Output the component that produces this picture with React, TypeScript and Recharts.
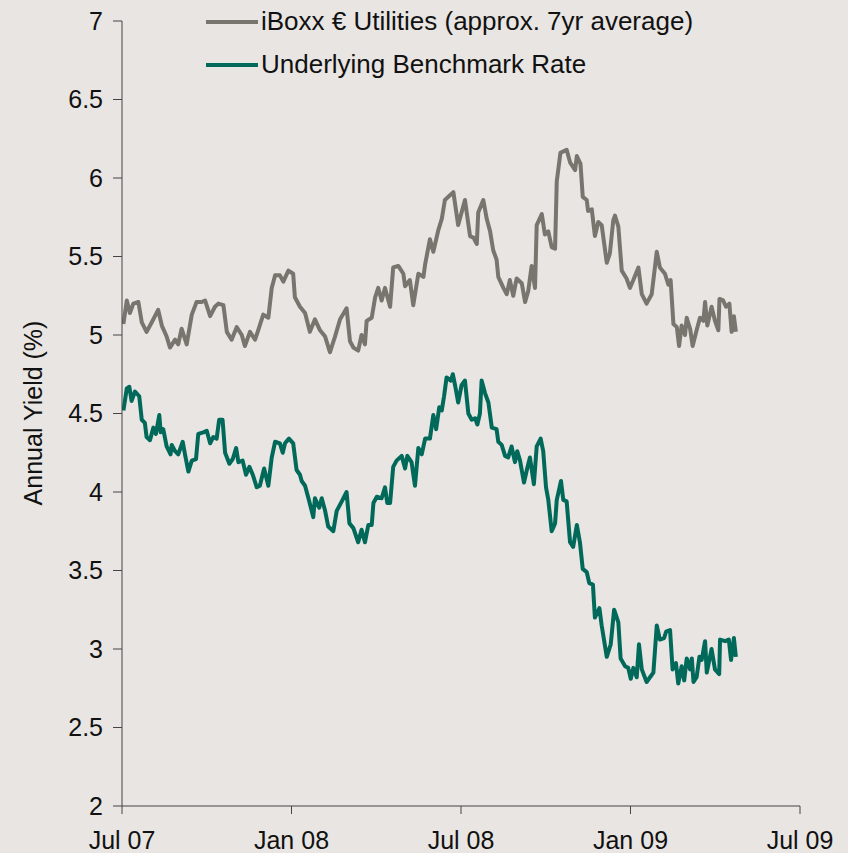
import { Line, LineChart, XAxis, YAxis } from "recharts";

// months since Jul 2007 (x) and yield in % (y)
const iboxxMonths = [
  0.05, 0.17, 0.28, 0.4, 0.58, 0.7, 0.87, 1.05, 1.28, 1.41, 1.58, 1.7, 1.88, 1.99, 2.11, 2.29, 2.47, 2.64, 2.82, 2.94,
  3.12, 3.29, 3.41, 3.59, 3.71, 3.88, 4.06, 4.24, 4.35, 4.53, 4.71, 4.82, 5.0, 5.18, 5.3, 5.42, 5.59, 5.71, 5.89, 6.06,
  6.12, 6.3, 6.48, 6.65, 6.83, 7.01, 7.19, 7.36, 7.54, 7.72, 7.95, 8.07, 8.19, 8.36, 8.48, 8.6, 8.66, 8.84, 8.96, 9.07,
  9.19, 9.31, 9.49, 9.6, 9.78, 9.96, 10.02, 10.19, 10.31, 10.49, 10.67, 10.73, 10.9, 11.02, 11.2, 11.32, 11.43, 11.61,
  11.73, 11.9, 12.14, 12.32, 12.44, 12.56, 12.61, 12.79, 12.91, 13.03, 13.14, 13.26, 13.32, 13.5, 13.62, 13.73, 13.85,
  13.97, 14.15, 14.27, 14.38, 14.5, 14.62, 14.68, 14.86, 14.97, 15.09, 15.21, 15.33, 15.39, 15.52, 15.74, 15.86, 16.04,
  16.1, 16.23, 16.31, 16.45, 16.5, 16.63, 16.74, 16.86, 16.98, 17.16, 17.27, 17.39, 17.45, 17.57, 17.69, 17.86, 17.98,
  18.1, 18.28, 18.4, 18.57, 18.75, 18.93, 19.04, 19.22, 19.34, 19.42, 19.52, 19.64, 19.72, 19.81, 19.93, 19.99, 20.11,
  20.2, 20.34, 20.46, 20.58, 20.64, 20.72, 20.87, 20.99, 21.11, 21.15, 21.28, 21.38, 21.5, 21.58, 21.66, 21.73,
];
const iboxxYield = [
  5.07, 5.22, 5.14, 5.2, 5.21, 5.08, 5.02, 5.08, 5.16, 5.06, 4.99, 4.92, 4.97, 4.94, 5.04, 4.94, 5.13, 5.21, 5.21, 5.22,
  5.12, 5.18, 5.2, 5.19, 5.02, 4.97, 5.05, 5.0, 4.93, 5.02, 4.97, 5.03, 5.13, 5.11, 5.3, 5.38, 5.38, 5.34, 5.41, 5.39,
  5.24, 5.18, 5.14, 5.02, 5.1, 5.03, 4.99, 4.89, 4.99, 5.1, 5.17, 4.96, 4.92, 4.9, 5.0, 4.94, 5.09, 5.11, 5.24, 5.3,
  5.22, 5.3, 5.18, 5.43, 5.44, 5.39, 5.31, 5.35, 5.19, 5.39, 5.37, 5.45, 5.61, 5.53, 5.67, 5.74, 5.86, 5.89,
  5.91, 5.7, 5.86, 5.63, 5.62, 5.58, 5.78, 5.86, 5.74, 5.66, 5.54, 5.48, 5.37, 5.3, 5.26, 5.35, 5.25,
  5.36, 5.33, 5.21, 5.28, 5.44, 5.3, 5.7, 5.77, 5.64, 5.66, 5.56, 5.55, 5.98, 6.16, 6.18, 6.1, 6.05,
  6.14, 6.09, 5.88, 5.86, 5.79, 5.8, 5.63, 5.72, 5.7, 5.46, 5.52, 5.73, 5.76, 5.69, 5.41, 5.36, 5.3,
  5.35, 5.43, 5.26, 5.2, 5.26, 5.53, 5.43, 5.39, 5.32, 5.35, 5.07, 5.05, 4.93, 5.06, 5.0, 5.11, 5.04,
  4.93, 5.03, 5.11, 5.09, 5.21, 5.06, 5.18, 5.09, 5.03, 5.23, 5.22, 5.18, 5.2, 5.02, 5.12, 5.02,
];

const benchMonths = [
  0.05, 0.17, 0.26, 0.34, 0.46, 0.61, 0.7, 0.81, 0.87, 0.99, 1.11, 1.2, 1.32, 1.37, 1.46, 1.58, 1.72, 1.76, 1.88, 1.99,
  2.15, 2.23, 2.35, 2.47, 2.62, 2.7, 2.88, 3.0, 3.12, 3.23, 3.35, 3.44, 3.56, 3.65, 3.8, 3.92, 4.04, 4.12, 4.27, 4.39,
  4.51, 4.63, 4.77, 4.88, 5.03, 5.18, 5.3, 5.42, 5.59, 5.69, 5.77, 5.91, 6.06, 6.18, 6.3, 6.36, 6.48, 6.63, 6.77, 6.83,
  6.98, 7.07, 7.19, 7.3, 7.48, 7.6, 7.78, 7.95, 8.05, 8.19, 8.36, 8.48, 8.6, 8.72, 8.84, 8.9, 9.02, 9.19, 9.31, 9.39,
  9.49, 9.6, 9.72, 9.9, 10.02, 10.1, 10.25, 10.37, 10.49, 10.61, 10.73, 10.9, 11.02, 11.12, 11.23, 11.32, 11.4, 11.49,
  11.64, 11.71, 11.79, 11.9, 12.02, 12.14, 12.26, 12.38, 12.5, 12.58, 12.67, 12.73, 12.85, 12.97, 13.09, 13.26, 13.32,
  13.44, 13.56, 13.67, 13.79, 13.91, 13.99, 14.09, 14.23, 14.33, 14.44, 14.58, 14.68, 14.82, 14.91, 15.01, 15.09,
  15.21, 15.33, 15.39, 15.54, 15.62, 15.74, 15.86, 15.97, 16.1, 16.21, 16.31, 16.45, 16.54, 16.67, 16.74, 16.9, 16.98,
  17.16, 17.3, 17.42, 17.57, 17.65, 17.81, 17.92, 18.01, 18.1, 18.22, 18.3, 18.4, 18.57, 18.69, 18.81, 18.93, 19.04,
  19.19, 19.26, 19.4, 19.49, 19.61, 19.69, 19.81, 19.9, 19.99, 20.11, 20.17, 20.23, 20.34, 20.44, 20.52, 20.64, 20.7,
  20.87, 20.99, 21.14, 21.17, 21.35, 21.48, 21.56, 21.66, 21.73,
];
const benchYield = [
  4.52, 4.66, 4.67, 4.58, 4.64, 4.61, 4.46, 4.44, 4.35, 4.33, 4.41, 4.37, 4.49, 4.38, 4.4, 4.29, 4.24, 4.3, 4.26, 4.24,
  4.32, 4.24, 4.13, 4.2, 4.21, 4.37, 4.38, 4.39, 4.31, 4.35, 4.34, 4.46, 4.46, 4.25, 4.18, 4.21, 4.28, 4.19, 4.2, 4.11,
  4.16, 4.11, 4.03, 4.04, 4.15, 4.04, 4.22, 4.32, 4.31, 4.25, 4.31, 4.34, 4.31, 4.14, 4.11, 4.07, 4.04, 3.94, 3.84, 3.96,
  3.9, 3.96, 3.88, 3.78, 3.75, 3.88, 3.94, 4.0, 3.8, 3.77, 3.68, 3.76, 3.68, 3.79, 3.79, 3.93, 3.97, 3.96, 4.03, 3.93,
  3.93, 4.16, 4.2, 4.23, 4.15, 4.23, 4.19, 4.04, 4.28, 4.24, 4.34, 4.34, 4.49, 4.4, 4.54, 4.52, 4.61, 4.73,
  4.71, 4.75, 4.68, 4.57, 4.68, 4.71, 4.5, 4.46, 4.47, 4.43, 4.5, 4.71, 4.63, 4.57, 4.41, 4.4, 4.32,
  4.3, 4.23, 4.22, 4.29, 4.19, 4.26, 4.2, 4.06, 4.14, 4.22, 4.05, 4.29, 4.34, 4.26, 4.03, 3.95,
  3.75, 3.8, 3.95, 4.07, 3.95, 3.94, 3.68, 3.65, 3.79, 3.68, 3.51, 3.49, 3.42, 3.41, 3.2, 3.26, 3.15,
  2.95, 3.03, 3.25, 3.17, 2.94, 2.89, 2.88, 2.81, 2.88, 2.82, 3.03, 2.87, 2.79, 2.82, 2.85, 3.15, 3.06,
  3.07, 3.11, 3.12, 2.87, 2.91, 2.78, 2.89, 2.8, 2.94, 2.87, 2.94, 2.79, 2.82, 2.95, 2.93, 3.05, 2.85,
  3.0, 2.87, 2.84, 3.06, 3.05, 3.06, 2.93, 3.07, 2.95,
];

const xTicks = [0, 6, 12, 18, 24];
const xTickLabels = ["Jul 07", "Jan 08", "Jul 08", "Jan 09", "Jul 09"];
const yTicks = [2, 2.5, 3, 3.5, 4, 4.5, 5, 5.5, 6, 6.5, 7];

const SERIES = [
  { key: "iboxx", name: "iBoxx € Utilities (approx. 7yr average)", color: "#78746e" },
  { key: "bench", name: "Underlying Benchmark Rate", color: "#00695a" },
];

const FONT = "Arial, 'Liberation Sans', sans-serif";

const iboxxData = iboxxMonths.map((m, i) => ({ m, v: iboxxYield[i] }));
const benchData = benchMonths.map((m, i) => ({ m, v: benchYield[i] }));

// legend sits over the plot top, outside Recharts so it does not eat plot height
function LegendBox() {
  return (
    <div style={{ position: "absolute", top: 0, left: 206, fontFamily: FONT, fontSize: 26, color: "#111" }}>
      {SERIES.map((s) => (
        <div key={s.key} style={{ display: "flex", alignItems: "center", height: 43, whiteSpace: "nowrap" }}>
          <span style={{ width: 52, height: 4, backgroundColor: s.color, marginRight: 3 }} />
          {s.name}
        </div>
      ))}
    </div>
  );
}

export default function App() {
  return (
    <div
      style={{ position: "absolute", top: 0, left: 0, width: 848, height: 853, background: "#e8e5e2", overflow: "hidden" }}
    >
      <LineChart width={848} height={853} margin={{ top: 21, right: 48, bottom: 0, left: 0 }}>
        <XAxis
          type="number"
          dataKey="m"
          domain={[0, 24]}
          ticks={xTicks}
          tickFormatter={(v: number) => xTickLabels[xTicks.indexOf(v)] ?? ""}
          height={47}
          tickSize={8}
          tickMargin={17}
          stroke="#444"
          tick={{ fill: "#111", fontSize: 25, fontFamily: FONT }}
          interval={0}
          allowDataOverflow
        />
        <YAxis
          type="number"
          domain={[2, 7]}
          ticks={yTicks}
          width={122}
          tickSize={9}
          tickMargin={10}
          stroke="#444"
          tick={{ fill: "#111", fontSize: 25, fontFamily: FONT }}
          interval={0}
          label={{
            content: () => (
              <text
                x={33}
                y={413}
                transform="rotate(-90, 33, 413)"
                textAnchor="middle"
                dominantBaseline="central"
                fontSize={25}
                fontFamily={FONT}
                fill="#111"
              >
                Annual Yield (%)
              </text>
            ),
          }}
        />
        <Line
          data={iboxxData}
          dataKey="v"
          name={SERIES[0].name}
          stroke={SERIES[0].color}
          strokeWidth={4}
          strokeLinejoin="round"
          dot={false}
          type="linear"
          isAnimationActive={false}
        />
        <Line
          data={benchData}
          dataKey="v"
          name={SERIES[1].name}
          stroke={SERIES[1].color}
          strokeWidth={4}
          strokeLinejoin="round"
          dot={false}
          type="linear"
          isAnimationActive={false}
        />
      </LineChart>
      <LegendBox />
    </div>
  );
}
